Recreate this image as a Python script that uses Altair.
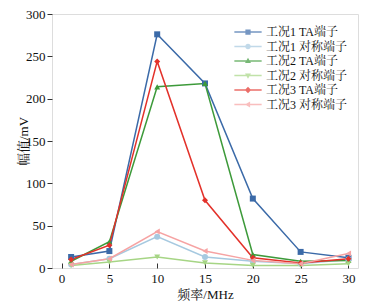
import altair as alt
import pandas as pd

freq = [1, 5, 10, 15, 20, 25, 30]
series_names = ["工况1 TA端子", "工况1 对称端子", "工况2 TA端子", "工况2 对称端子", "工况3 TA端子", "工况3 对称端子"]
s1_ta = [13, 20, 276, 218, 82, 19, 12]
s1_sym = [4, 11, 37, 13, 8, 5, 10]
s2_ta = [8, 31, 214, 218, 16, 8, 9]
s2_sym = [3, 7, 13, 6, 3, 3, 5]
s3_ta = [10, 27, 244, 80, 12, 6, 11]
s3_sym = [4, 11, 43, 20, 9, 5, 17]
colors = ["#3b6aa8", "#a6c9e0", "#3d9a3a", "#a6d585", "#e3312a", "#f6a3a3"]
shapes = ["square", "circle", "triangle-up", "triangle-down", "diamond", "triangle-left"]

bar_path = "M-3.9,-0.2H3.9V0.2H-3.9Z "
legend_paths = [
    bar_path + "M-0.75,-0.75H0.75V0.75H-0.75Z",
    bar_path + "M0.8,0A0.8,0.8 0 1,1 -0.8,0A0.8,0.8 0 1,1 0.8,0Z",
    bar_path + "M0,-0.9L0.85,0.6H-0.85Z",
    bar_path + "M0,0.9L-0.85,-0.6H0.85Z",
    bar_path + "M0,-0.95L0.9,0L0,0.95L-0.9,0Z",
    bar_path + "M-0.9,0L0.6,-0.85V0.85Z",
]

rows = []
for name, vals in zip(series_names, [s1_ta, s1_sym, s2_ta, s2_sym, s3_ta, s3_sym]):
    for f, v in zip(freq, vals):
        rows.append({"freq": f, "val": v, "series": name, "series_pt": name})
df = pd.DataFrame(rows)

FONT = "Liberation Serif, Noto Serif CJK SC, Noto Sans CJK SC"

x = alt.X("freq:Q", scale=alt.Scale(domain=[-1, 31], nice=False, zero=False),
          axis=alt.Axis(values=[0, 5, 10, 15, 20, 25, 30], title="频率/MHz", grid=False,
                        domain=False, offset=-5, tickSize=5, tickColor="#333",
                        labelPadding=4, labelFont=FONT, labelFontSize=13, labelColor="#111",
                        titleFont=FONT, titleFontSize=13, titleFontWeight="normal", titleColor="#111",
                        titleY=25, titleBaseline="top"))
y = alt.Y("val:Q", scale=alt.Scale(domain=[0, 300], nice=False),
          axis=alt.Axis(values=[0, 50, 100, 150, 200, 250, 300], title="幅值/mV", grid=False,
                        domain=False, tickSize=5, tickColor="#333", labelPadding=2,
                        labelFont=FONT, labelFontSize=13, labelColor="#111",
                        titleFont=FONT, titleFontSize=13, titleFontWeight="normal", titleColor="#111",
                        titleX=-29, titleY=127, titleBaseline="middle", titleAngle=-90))

color_scale = alt.Scale(domain=series_names, range=colors)

lines = alt.Chart(df).mark_line(strokeWidth=1.5).encode(
    x=x, y=y,
    color=alt.Color("series:N", scale=color_scale, legend=None),
)
points = alt.Chart(df).mark_point(filled=True, size=36, opacity=1).encode(
    x=x, y=y,
    color=alt.Color("series:N", scale=color_scale, legend=None),
    shape=alt.Shape("series_pt:N", scale=alt.Scale(domain=series_names, range=shapes), legend=None),
)
leg = alt.Legend(title=None, orient="none", legendX=190, legendY=12, padding=0,
                 labelFont=FONT, labelFontSize=12, labelColor="#111", labelOffset=12,
                 symbolSize=49, rowPadding=2.5, symbolStrokeWidth=0)
legend_layer = alt.Chart(df).transform_filter("datum.freq < -100").mark_point(filled=True, size=49).encode(
    x=x, y=y,
    color=alt.Color("series:N", scale=color_scale, legend=leg),
    shape=alt.Shape("series:N", scale=alt.Scale(domain=series_names, range=legend_paths), legend=leg),
)

chart = alt.layer(lines, points, legend_layer).resolve_scale(
    color="independent", shape="independent"
).properties(
    width=306, height=254,
    autosize=alt.AutoSizeParams(type="none"),
    padding={"left": 52, "top": 14, "right": 10, "bottom": 38},
).configure_view(stroke="#333", strokeWidth=1).configure(background="white")

chart.save("out.html", embed_options={"renderer": "svg", "actions": False})
